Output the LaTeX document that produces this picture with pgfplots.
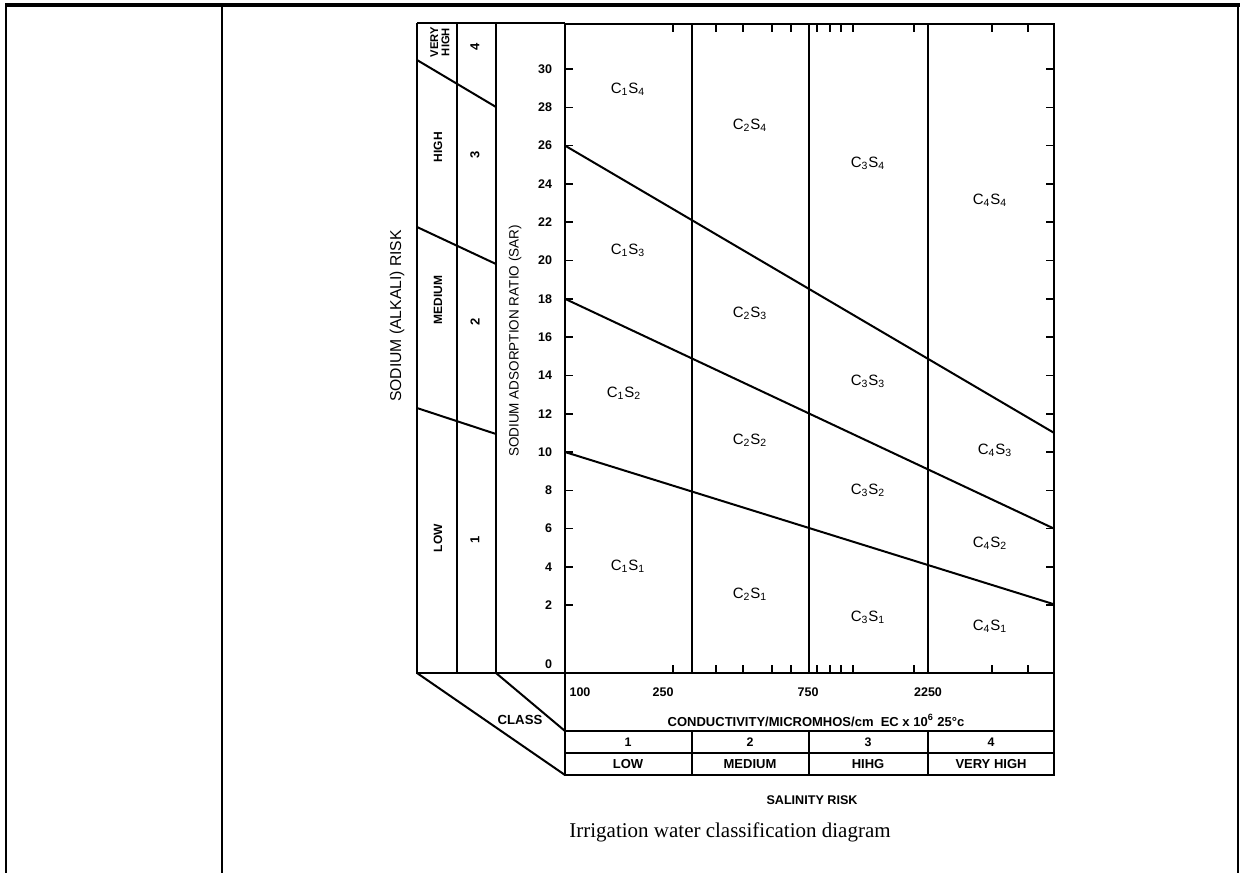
\documentclass[border=0pt]{standalone}
\usepackage{pgfplots}
\pgfplotsset{compat=1.18}
\usepackage{fontspec}
\setmainfont{Liberation Sans}
\newfontfamily\captionserif{Liberation Serif}
\newcommand{\fsz}[1]{\fontsize{#1bp}{#1bp}\selectfont}
\begin{document}
\begin{tikzpicture}[x=0.5bp,y=0.5bp]
\useasboundingbox (0,0) rectangle (1244,-873);
% table frame
\draw[line width=1.8bp] (5,-5) -- (1240,-5);
\draw[line width=1.2bp] (6,-5) -- (6,-873);
\draw[line width=1.2bp] (222,-5) -- (222,-873);
\draw[line width=1.2bp] (1238,-5) -- (1238,-873);
% left risk panel
\begin{scope}[line width=1bp]
\draw (417,-23) -- (565,-23);
\draw (417,-23) -- (417,-673) -- (565,-673);
\draw (457,-23) -- (457,-673);
\draw (496,-23) -- (496,-673);
\draw (417,-60) -- (496,-107);
\draw (417,-227) -- (496,-264);
\draw (417,-408) -- (496,-434);
\draw (417,-673) -- (565,-775);
\draw (496,-673) -- (565,-731);
\draw (565,-673) -- (565,-775) -- (1054,-775) -- (1054,-673);
\draw (565,-731) -- (1054,-731);
\draw (565,-753) -- (1054,-753);
\foreach \xx in {692,809,928} \draw (\xx,-731) -- (\xx,-775);
\end{scope}
\node[rotate=90,font=\fsz{7.85}] at (397,-316) {SODIUM (ALKALI) RISK};
\node[rotate=90,font=\fsz{6.75}] at (515,-341) {SODIUM ADSORPTION RATIO (SAR)};
\node[rotate=90,font=\bfseries\fsz{5.6},align=center,inner sep=0pt] at (440,-42) {VERY\\HIGH};
\node[rotate=90,font=\bfseries\fsz{6}] at (438,-147) {HIGH};
\node[rotate=90,font=\bfseries\fsz{6}] at (438,-300) {MEDIUM};
\node[rotate=90,font=\bfseries\fsz{6}] at (438,-538) {LOW};
\node[rotate=90,font=\bfseries\fsz{6.5}] at (475,-47) {4};
\node[rotate=90,font=\bfseries\fsz{6.5}] at (475,-155) {3};
\node[rotate=90,font=\bfseries\fsz{6.5}] at (475,-322) {2};
\node[rotate=90,font=\bfseries\fsz{6.5}] at (475,-540) {1};
\node[font=\bfseries\fsz{6.6}] at (520,-720) {CLASS};
\node[font=\bfseries\fsz{6.5}] at (816,-720) {CONDUCTIVITY/MICROMHOS/cm\ \ EC x 10\textsuperscript{6} 25°c};
\foreach \xx/\t in {628/1,750/2,868/3,991/4} \node[font=\bfseries\fsz{6.2}] at (\xx,-742) {\t};
\foreach \xx/\t in {628/LOW,750/MEDIUM,868/HIHG,991/VERY HIGH} \node[font=\bfseries\fsz{6.5}] at (\xx,-764) {\t};
\node[font=\bfseries\fsz{6.3}] at (812,-800) {SALINITY RISK};
\node[font=\captionserif\fsz{10.5}] at (730,-832) {Irrigation water classification diagram};
\begin{axis}[
  at={(282.5bp,-336.5bp)}, anchor=south west,
  scale only axis, width=244.5bp, height=324.5bp,
  xmin=0, xmax=489, ymin=-1.54, ymax=32.35,
  axis line style={line width=1.1bp},
  tick style={line width=0.8bp, black},
  major tick length=4bp,
  tick align=inside,
  /pgf/number format/assume math mode=true,
  xtick={108,151,178,207,226,252,265,276,288,349,427,463},
  xticklabels={},
  extra x ticks={15,98,243,363},
  extra x tick labels={100,250,750,2250},
  extra x tick style={major tick length=0pt, xticklabel style={yshift=-4bp}},
  ytick={2,4,...,30},
  extra y ticks={-1.07},
  extra y tick labels={0},
  extra y tick style={major tick length=0pt},
  ticklabel style={font=\bfseries\fsz{6.25}},
  yticklabel style={xshift=-3bp},
  clip=false,
]
% class boundaries (vertical)
\addplot[black, line width=1bp] coordinates {(127,-1.54) (127,32.35)};
\addplot[black, line width=1bp] coordinates {(244,-1.54) (244,32.35)};
\addplot[black, line width=1bp] coordinates {(363,-1.54) (363,32.35)};
% sodium hazard boundaries
\addplot[black, line width=1bp] coordinates {(0,26) (489,11.0)};
\addplot[black, line width=1bp] coordinates {(0,18) (489,6.0)};
\addplot[black, line width=1bp] coordinates {(0,10) (489,2.05)};
% region labels
\begin{scope}[every node/.style={font=\fsz{7.5}}]
\node at (axis cs:63,28.96) {C\textsubscript{1}S\textsubscript{4}};
\node at (axis cs:185,27.08) {C\textsubscript{2}S\textsubscript{4}};
\node at (axis cs:303,25.09) {C\textsubscript{3}S\textsubscript{4}};
\node at (axis cs:425,23.16) {C\textsubscript{4}S\textsubscript{4}};
\node at (axis cs:63,20.55) {C\textsubscript{1}S\textsubscript{3}};
\node at (axis cs:185,17.26) {C\textsubscript{2}S\textsubscript{3}};
\node at (axis cs:303,13.71) {C\textsubscript{3}S\textsubscript{3}};
\node at (axis cs:430,10.10) {C\textsubscript{4}S\textsubscript{3}};
\node at (axis cs:59,13.08) {C\textsubscript{1}S\textsubscript{2}};
\node at (axis cs:185,10.63) {C\textsubscript{2}S\textsubscript{2}};
\node at (axis cs:303,8.02) {C\textsubscript{3}S\textsubscript{2}};
\node at (axis cs:425,5.25) {C\textsubscript{4}S\textsubscript{2}};
\node at (axis cs:63,4.05) {C\textsubscript{1}S\textsubscript{1}};
\node at (axis cs:185,2.58) {C\textsubscript{2}S\textsubscript{1}};
\node at (axis cs:303,1.38) {C\textsubscript{3}S\textsubscript{1}};
\node at (axis cs:425,0.91) {C\textsubscript{4}S\textsubscript{1}};
\end{scope}
\end{axis}
\end{tikzpicture}
\end{document}
